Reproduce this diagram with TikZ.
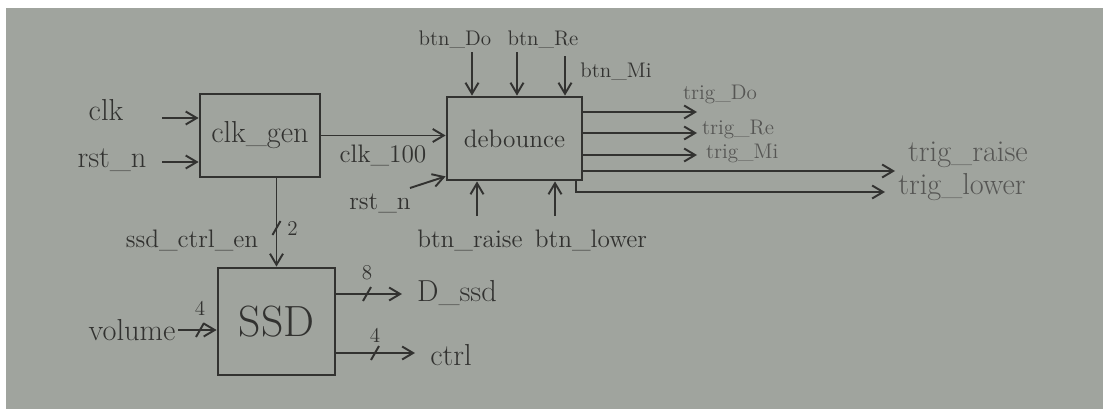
\documentclass[tikz,border=0pt]{standalone}
\usepackage{xcolor}
\usepackage{tikz}
\usetikzlibrary{arrows.meta,positioning,calc}
\definecolor{paper}{RGB}{160,164,158}
\definecolor{ink}{RGB}{50,50,48}
\definecolor{inklight}{RGB}{86,86,84}
\newcommand{\buswidth}[3]{%
  \draw[ink, line width=1.1pt] ($(#1)+(-4,7)$) -- ($(#1)+(4,-7)$);
  \node[ink, font=\large, inner sep=1pt, #3] (#1w) at (#1) {#2};}

\begin{document}
\begin{tikzpicture}[
    x=0.02cm, y=-0.02cm,
    box/.style={rectangle, draw=ink, line width=1.6pt, inner sep=0pt, text=ink},
    arrow/.style={-{Straight Barb[length=2.2mm,width=2.6mm]}, line width=1.1pt, draw=ink},
    sig/.style={text=ink, inner sep=1pt, font=\LARGE},
    sigs/.style={sig, font=\Large},
    trig/.style={text=inklight, inner sep=1pt, font=\large}
]
\useasboundingbox (0,0) rectangle (1103,409);
\fill[white] (0,0) rectangle (1103,409);
\fill[paper] (6,8) rectangle (1103,409);

% Nodes
\node[box, minimum width=2.4cm, minimum height=1.66cm, font=\LARGE] (clkgen) at (260,135.5) {clk\_gen};
\node[box, minimum width=2.34cm, minimum height=2.14cm, font=\Huge] (ssd) at (276.5,321.5) {SSD};
\node[box, minimum width=2.7cm, minimum height=1.66cm, font=\Large] (debounce) at (514.5,138.5) {debounce};

% Free ends
\coordinate (clkin) at (162,118);
\coordinate (rstin) at (162,162);
\coordinate (volin) at (178,330);
\coordinate (dout) at (402,294);
\coordinate (ctrlout) at (415,353);
\coordinate (rstdb) at (410,188);
\coordinate (bdo) at (472,52);
\coordinate (bre) at (517,52);
\coordinate (bmi) at (565,56);
\coordinate (brs) at (477,216);
\coordinate (blw) at (555,216);
\coordinate (tdo) at (697,112);
\coordinate (tre) at (697,133);
\coordinate (tmi) at (697,155);
\coordinate (trs) at (895,171);
\coordinate (tlw) at (885,192);

% Arrows
\draw[arrow] (clkin) -- (clkin -| clkgen.west);
\draw[arrow] (rstin) -- (rstin -| clkgen.west);
\draw[arrow] (clkgen.east) -- (clkgen.east -| debounce.west);
\draw[arrow] (rstdb) -- ($(debounce.south west)+(0,-5)$);
\draw[arrow] (clkgen.south -| ssd.north) -- (ssd.north);
\draw[arrow] (volin) -- (volin -| ssd.west);
\draw[arrow] (ssd.east |- dout) -- (dout);
\draw[arrow] (ssd.east |- ctrlout) -- (ctrlout);
\foreach \b in {bdo,bre,bmi}
  \draw[arrow] (\b) -- (\b |- debounce.north);
\foreach \b in {brs,blw}
  \draw[arrow] (\b) -- (\b |- debounce.south);
\foreach \t in {tdo,tre,tmi,trs}
  \draw[arrow] (debounce.east |- \t) -- (\t);
\draw[arrow] ($(debounce.south east)+(-7,0)$) |- (tlw);

% Bus widths
\coordinate (en2) at (276.5,228);
\coordinate (vol4) at (200,330);
\coordinate (d8) at (367,294);
\coordinate (ctrl4) at (375,353);
\buswidth{en2}{2}{right=5pt}
\buswidth{vol4}{4}{above=7pt}
\buswidth{d8}{8}{above=7pt}
\buswidth{ctrl4}{4}{above=5pt}

% Labels
\node[sig] (clklbl) at (106,110) {clk};
\node[sig] (rstlbl) at (112,160) {rst\_n};
\node[sigs] (clk100lbl) at (383,155) {clk\_100};
\node[sigs] (rstdblbl) at (380,203) {rst\_n};
\node[sigs] (enlbl) at (192,240) {ssd\_ctrl\_en};
\node[sig] (vollbl) at (132,330) {volume};
\node[sig] (dlbl) at (457,293) {D\_ssd};
\node[sig] (ctrllbl) at (451,355) {ctrl};
\node[sig, font=\large] (bdolbl) at (455,40) {btn\_Do};
\node[sig, font=\large] (brelbl) at (543,40) {btn\_Re};
\node[sig, font=\large] (bmilbl) at (616,72) {btn\_Mi};
\node[sigs] (brslbl) at (470,240) {btn\_raise};
\node[sigs] (blwlbl) at (591,240) {btn\_lower};
\node[trig] (tdolbl) at (720,94) {trig\_Do};
\node[trig, anchor=west] (trelbl) at (700,129) {trig\_Re};
\node[trig, anchor=west] (tmilbl) at (704,153) {trig\_Mi};
\node[trig, font=\LARGE] (trslbl) at (968,155) {trig\_raise};
\node[trig, font=\LARGE] (tlwlbl) at (962,187) {trig\_lower};
\end{tikzpicture}
\end{document}
